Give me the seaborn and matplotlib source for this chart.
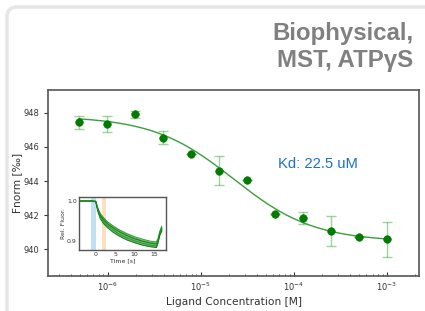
import numpy as np
import pandas as pd
import matplotlib.pyplot as plt
import seaborn as sns
from matplotlib.patches import FancyBboxPatch
from matplotlib.ticker import LogLocator, NullFormatter

# dose response data
conc = [4.88e-7, 9.77e-7, 1.95e-6, 3.91e-6, 7.81e-6, 1.56e-5, 3.13e-5, 6.25e-5, 1.25e-4, 2.5e-4, 5e-4, 1e-3]
fnorm = [947.45, 947.35, 947.9, 946.55, 945.6, 944.6, 944.05, 942.1, 941.85, 941.05, 940.75, 940.6]
err = [0.38, 0.45, 0.22, 0.38, 0.0, 0.85, 0.0, 0.0, 0.35, 0.88, 0.0, 1.02]

# fit parameters
kd = 22.5e-6
unbound = 947.8
bound = 940.45

# inset MST traces
time = [-4, -1, 0, 0.3, 0.7, 1.2, 2, 3, 4.5, 6, 8, 10, 12, 14, 15.6, 16, 16.5, 17]
trace_a = [1.0, 1.0, 1.0, 0.99, 0.978, 0.968, 0.958, 0.948, 0.937, 0.928, 0.918, 0.91, 0.904, 0.899, 0.897, 0.905, 0.925, 0.937]
trace_b = [1.0, 1.0, 0.999, 0.987, 0.974, 0.963, 0.953, 0.943, 0.932, 0.923, 0.913, 0.905, 0.899, 0.894, 0.892, 0.901, 0.921, 0.933]
trace_c = [1.0, 1.0, 0.999, 0.985, 0.971, 0.959, 0.948, 0.938, 0.927, 0.917, 0.907, 0.9, 0.894, 0.889, 0.887, 0.898, 0.918, 0.929]
trace_d = [1.0, 1.0, 0.998, 0.983, 0.968, 0.955, 0.943, 0.933, 0.921, 0.912, 0.902, 0.895, 0.889, 0.885, 0.883, 0.895, 0.915, 0.925]

title = "Biophysical,\nMST, ATPγS"
kd_label = "Kd: 22.5 uM"

sns.set_style("white")
plt.rcParams['font.family'] = ['DejaVu Sans']

fig = plt.figure(figsize=(4.25, 3.11), dpi=100)

# card outline
card = FancyBboxPatch((0.07, -0.5), 5.0, 3.54, boxstyle="round,pad=0,rounding_size=0.1",
                      transform=fig.dpi_scale_trans, facecolor="none", edgecolor="#e6e6e6",
                      linewidth=2.5, zorder=-5)
fig.patches.append(card)

fig.text(0.972, 0.93, title, ha="right", va="top", fontsize=17.3, fontweight="bold",
         color="#808080", family="Liberation Sans", linespacing=1.22)

ax = fig.add_axes([0.113, 0.1125, 0.873, 0.598])
df = pd.DataFrame({"conc": conc, "fnorm": fnorm, "err": err})
ax.errorbar(df["conc"], df["fnorm"], yerr=df["err"], fmt="none", ecolor="#2ca02c",
            alpha=0.45, elinewidth=1, capsize=3.5, capthick=1)
sns.scatterplot(data=df, x="conc", y="fnorm", ax=ax, color="#007a00", s=30,
                edgecolor="#007a00", zorder=3)

xfit = np.logspace(np.log10(conc[0]), np.log10(conc[-1]), 200)
yfit = unbound + (bound - unbound) * xfit / (xfit + kd)
sns.lineplot(x=xfit, y=yfit, ax=ax, color="#3b9e3b", linewidth=1.0)

ax.set_xscale("log")
ax.set_xlim(10 ** -6.64, 10 ** -2.655)
ax.set_ylim(938.44, 949.33)
ax.set_yticks([940, 942, 944, 946, 948])
ax.xaxis.set_major_locator(LogLocator(base=10, numticks=10))
ax.xaxis.set_minor_locator(LogLocator(base=10, subs=np.arange(2, 10), numticks=10))
ax.xaxis.set_minor_formatter(NullFormatter())
ax.tick_params(axis="x", which="both", direction="in", labelsize=6, colors="#333333",
               bottom=True, top=False)
ax.tick_params(axis="x", which="major", length=3)
ax.tick_params(axis="x", which="minor", length=1.5)
ax.tick_params(axis="y", direction="out", length=3, labelsize=6, colors="#333333", left=True)
for s in ax.spines.values():
    s.set_color("#555555")
    s.set_linewidth(1.2)
ax.set_xlabel("Ligand Concentration [M]", fontsize=7.7, color="#333333", labelpad=3)
ax.set_ylabel("Fnorm [‰]", fontsize=7.7, color="#333333", labelpad=1)
ax.text(0.62, 0.6, kd_label, transform=ax.transAxes, fontsize=10.6, color="#1a72c4",
        family="Liberation Sans", va="center")

# inset
ins = fig.add_axes([0.186, 0.196, 0.204, 0.1695])
ins.axvspan(-1.2, 0, color="#a9d4f0", alpha=0.7, lw=0)
ins.axvspan(1.6, 2.6, color="#fbd3a8", alpha=0.7, lw=0)
ins.fill_between(time, trace_d, trace_a, color="#1a8a1a", alpha=0.6, lw=0)
tr = pd.DataFrame({"time": time * 4,
                   "value": trace_a + trace_b + trace_c + trace_d,
                   "trace": ["a"] * len(time) + ["b"] * len(time) + ["c"] * len(time) + ["d"] * len(time)})
sns.lineplot(data=tr, x="time", y="value", hue="trace", ax=ins, legend=False,
             palette=["#2a9a2a", "#0f7d0f", "#2a9a2a", "#0f7d0f"], linewidth=0.7, estimator=None)
ins.set_xlim(-4.3, 18)
ins.set_ylim(0.8766, 1.0093)
ins.set_xticks([0, 5, 10, 15])
ins.set_yticks([0.9, 1.0])
ins.set_yticklabels(["0.9", "1.0"])
ins.xaxis.set_minor_locator(plt.MultipleLocator(1))
ins.tick_params(axis="both", which="both", direction="in", labelsize=4.5, colors="#333333", pad=1.5)
ins.tick_params(axis="both", which="major", length=2)
ins.tick_params(axis="both", which="minor", length=1)
ins.set_xlabel("Time [s]", fontsize=4.5, labelpad=0.5, color="#333333")
ins.set_ylabel("Rel. Fluor.", fontsize=4.5, labelpad=1, color="#333333")
for s in ins.spines.values():
    s.set_color("#555555")
    s.set_linewidth(1.0)

fig.savefig("out.png", dpi=100)
